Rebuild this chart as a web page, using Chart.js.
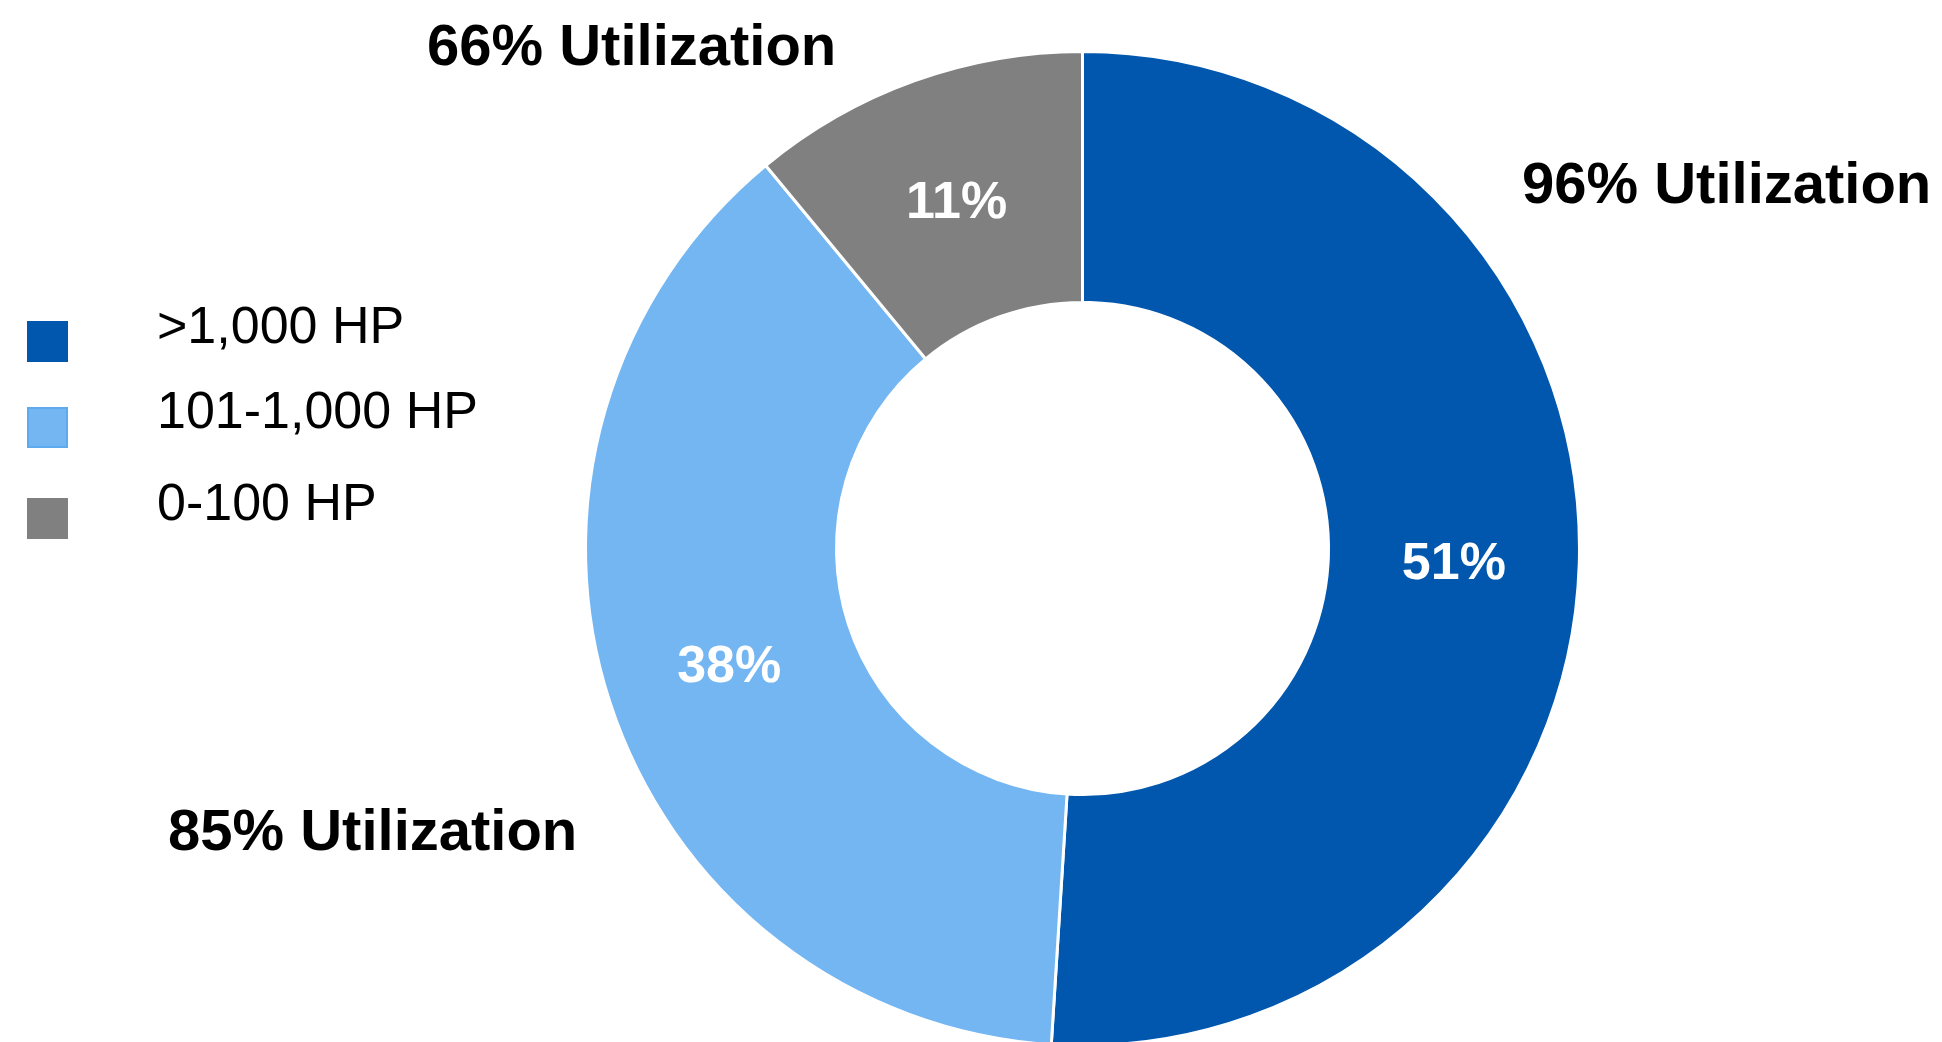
<!DOCTYPE html>
<html>
<head>
<meta charset="utf-8">
<script src="https://cdn.jsdelivr.net/npm/chart.js@4.4.1/dist/chart.umd.min.js"></script>
<style>
html,body{margin:0;padding:0;background:#fff;overflow:hidden}
#wrap{position:relative;width:1942px;height:1100px}
</style>
</head>
<body>
<div id="wrap"><canvas id="hpChart"></canvas></div>
<script>
// ── Data ──
const categories=['>1,000 HP','101-1,000 HP','0-100 HP'];
const shares=[51,38,11];
const utilization=[96,85,66];
const colors=['#0057ad','#74b6f2','#808080'];
const legendBorders=['#0057ad','#5eaaef','#808080'];

const FONT='"Liberation Sans", Arial, Helvetica, sans-serif';

// white percentage inside each ring segment
const sliceLabels={
  id:'sliceLabels',
  afterDatasetsDraw(chart){
    const ctx=chart.ctx;
    const meta=chart.getDatasetMeta(0);
    ctx.save();
    ctx.fillStyle='#fff';
    ctx.font='bold 52px '+FONT;
    ctx.textAlign='center';
    ctx.textBaseline='alphabetic';
    meta.data.forEach((arc,i)=>{
      const p=arc.tooltipPosition();
      ctx.fillText(shares[i]+'%',p.x,p.y+19);
    });
    ctx.restore();
  }
};

// "xx% Utilization" callouts next to each segment
const calloutPos=[{x:1522,y:203},{x:168,y:850},{x:427,y:65}];
const callouts={
  id:'callouts',
  afterDraw(chart){
    const ctx=chart.ctx;
    ctx.save();
    ctx.fillStyle='#000';
    ctx.font='bold 58px '+FONT;
    ctx.textAlign='left';
    ctx.textBaseline='alphabetic';
    utilization.forEach((u,i)=>{
      ctx.fillText(u+'% Utilization',calloutPos[i].x,calloutPos[i].y);
    });
    ctx.restore();
  }
};

// legend on the left: square swatch + label
const sideLegend={
  id:'sideLegend',
  afterDraw(chart){
    const ctx=chart.ctx;
    const boxTops=[321,407,498], textBase=[343,428,520];
    ctx.save();
    ctx.font='52px '+FONT;
    ctx.textBaseline='alphabetic';
    ctx.textAlign='left';
    categories.forEach((c,i)=>{
      ctx.fillStyle=colors[i];
      ctx.fillRect(27,boxTops[i],41,41);
      ctx.strokeStyle=legendBorders[i];
      ctx.lineWidth=2;
      ctx.strokeRect(28,boxTops[i]+1,39,39);
      ctx.fillStyle='#000';
      ctx.fillText(c,157,textBase[i]);
    });
    ctx.restore();
  }
};

new Chart(document.getElementById('hpChart'),{
  type:'doughnut',
  data:{
    labels:categories,
    datasets:[{
      data:shares,
      backgroundColor:colors,
      borderColor:'#fff',
      borderWidth:3,
      hoverOffset:0
    }]
  },
  options:{
    responsive:true,
    maintainAspectRatio:false,
    animation:false,
    cutout:'49.5%',
    layout:{padding:{top:50,bottom:53,left:584,right:361}},
    plugins:{legend:{display:false},tooltip:{enabled:false}}
  },
  plugins:[sliceLabels,callouts,sideLegend]
});
</script>
</body>
</html>
